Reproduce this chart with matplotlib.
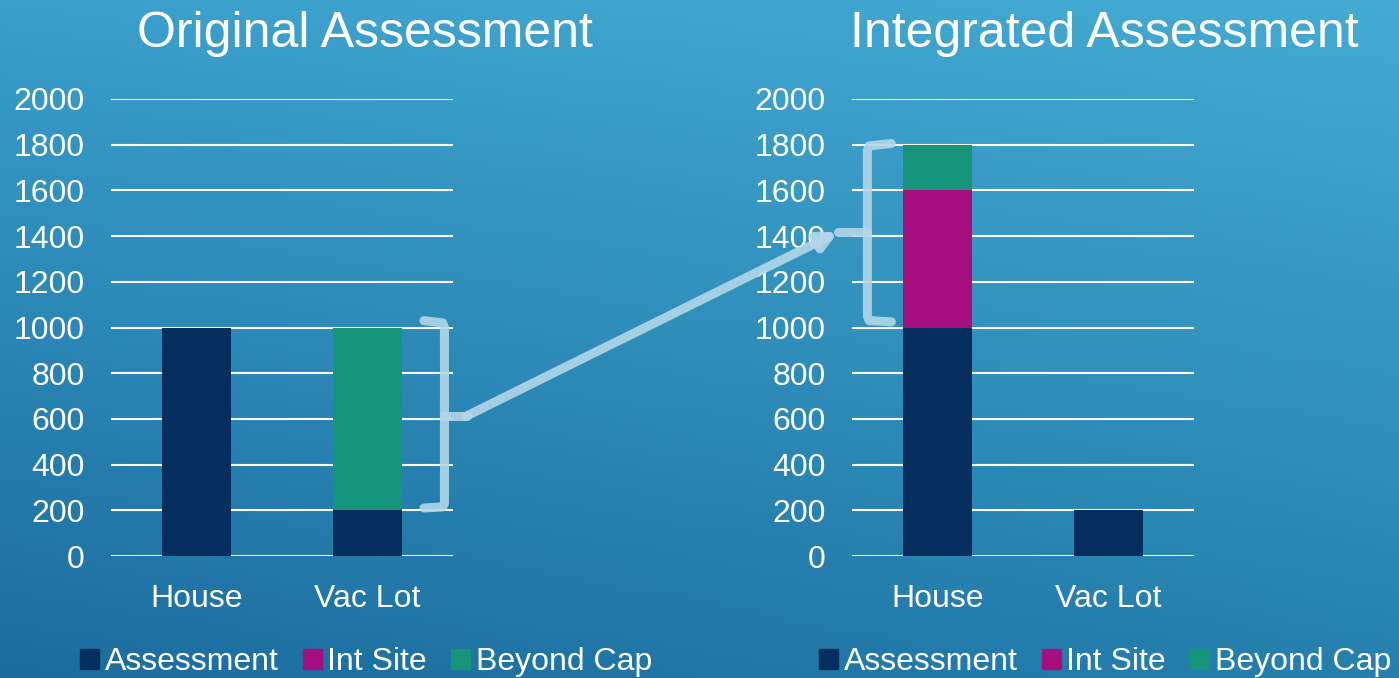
import numpy as np
import matplotlib.pyplot as plt
from matplotlib.patches import ConnectionPatch, Patch

categories = ['House', 'Vac Lot']
series = ['Assessment', 'Int Site', 'Beyond Cap']
colors = ['#062E5F', '#A50E7E', '#16957A']

orig_assessment = [1000, 200]
orig_int_site = [0, 0]
orig_beyond_cap = [0, 800]

integ_assessment = [1000, 200]
integ_int_site = [600, 0]
integ_beyond_cap = [200, 0]

yticks = [0, 200, 400, 600, 800, 1000, 1200, 1400, 1600, 1800, 2000]

plt.rcParams['font.family'] = ['Liberation Sans', 'DejaVu Sans']

fig = plt.figure(figsize=(13.99, 6.78), dpi=100)

# gradient background
bg = fig.add_axes([0, 0, 1, 1], zorder=-10)
tl = np.array([0x3A, 0x9F, 0xCB]) / 255
tr = np.array([0x44, 0xAB, 0xD2]) / 255
bl = np.array([0x1B, 0x6C, 0x9E]) / 255
br = np.array([0x25, 0x80, 0xAE]) / 255
u = np.linspace(0, 1, 200)[None, :, None]
v = np.linspace(0, 1, 100)[:, None, None]
img = (1 - v) * ((1 - u) * tl + u * tr) + v * ((1 - u) * bl + u * br)
bg.imshow(img, aspect='auto', extent=[0, 1, 0, 1], origin='upper')
bg.set_axis_off()

fs = 23
ax1 = fig.add_axes([111 / 1399, 1 - 556 / 678, 342 / 1399, 457 / 678])
ax2 = fig.add_axes([852 / 1399, 1 - 556 / 678, 342 / 1399, 457 / 678])

x = np.arange(len(categories))
for ax, data in [(ax1, (orig_assessment, orig_int_site, orig_beyond_cap)),
                 (ax2, (integ_assessment, integ_int_site, integ_beyond_cap))]:
    bottom = np.zeros(len(categories))
    for vals, c in zip(data, colors):
        ax.bar(x, vals, 0.40, bottom=bottom, color=c, zorder=3)
        bottom += np.array(vals)
    ax.set_xlim(-0.5, 1.5)
    ax.set_ylim(0, 2000)
    ax.set_yticks(yticks)
    ax.set_xticks(x)
    ax.set_xticklabels(categories)
    ax.grid(axis='y', color='white', lw=1.5, zorder=1)
    ax.set_facecolor('none')
    for s in ax.spines.values():
        s.set_visible(False)
    ax.tick_params(length=0, colors='white', labelsize=fs)
    ax.tick_params(axis='y', pad=19)
    ax.tick_params(axis='x', pad=20)

fig.text(365 / 1399, 1 - 47 / 678, 'Original Assessment', color='white',
         fontsize=36, ha='center', va='baseline')
fig.text(1104 / 1399, 1 - 47 / 678, 'Integrated Assessment', color='white',
         fontsize=36, ha='center', va='baseline')

handles = [Patch(color=c, label=s) for s, c in zip(series, colors)]
for cx in [366 / 1399, 1105 / 1399]:
    leg = fig.legend(handles=handles, loc='center', bbox_to_anchor=(cx, 1 - 662 / 678),
                     ncol=3, frameon=False, fontsize=fs, handlelength=0.6,
                     handleheight=0.6, handletextpad=0.18, columnspacing=0.75,
                     borderaxespad=0, borderpad=0)
    for t in leg.get_texts():
        t.set_color('white')

# braces and arrow
bc = '#B3D7E8'
blw = 6.5
ax1.plot([1.33, 1.44, 1.45, 1.45, 1.44, 1.33], [1030, 1020, 1000, 230, 215, 210],
         color=bc, lw=blw, solid_capstyle='round', solid_joinstyle='round',
         clip_on=False, zorder=5, alpha=0.9)
ax1.plot([1.45, 1.58], [613, 613], color=bc, lw=blw, solid_capstyle='round',
         clip_on=False, zorder=5, alpha=0.9)
ax2.plot([-0.27, -0.40, -0.41, -0.41, -0.40, -0.27], [1805, 1795, 1775, 1050, 1030, 1025],
         color=bc, lw=blw, solid_capstyle='round', solid_joinstyle='round',
         clip_on=False, zorder=5, alpha=0.9)
ax2.plot([-0.41, -0.58], [1420, 1420], color=bc, lw=blw, solid_capstyle='round',
         clip_on=False, zorder=5, alpha=0.9)
con = ConnectionPatch(xyA=(1.58, 613), coordsA=ax1.transData,
                      xyB=(-0.58, 1418), coordsB=ax2.transData,
                      arrowstyle='-|>,head_length=1.0,head_width=0.5',
                      color=bc, lw=blw, alpha=0.9, zorder=6)
fig.add_artist(con)

fig.savefig('out.png', dpi=100)
